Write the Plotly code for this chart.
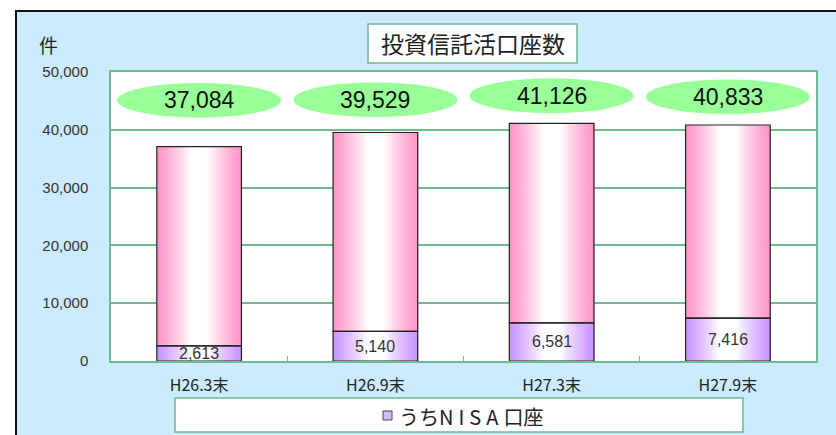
import numpy as np
import plotly.graph_objects as go

# ---- data ----
periods = ["H26.3末", "H26.9末", "H27.3末", "H27.9末"]
total_accounts = [37084, 39529, 41126, 40833]
nisa_accounts = [2613, 5140, 6581, 7416]
y_ticks = [0, 10000, 20000, 30000, 40000, 50000]

# ---- styling ----
W, H = 836, 435
L, R, T, B = 111, 20, 72, 74
PLOT_W, PLOT_H = W - L - R, H - T - B
BG_BLUE = "#CCEBFF"
GRID = "#6DBB8F"
PINK = (255, 153, 204)
PURPLE = (204, 153, 255)
ELLIPSE = "#99FF99"
CJK = "Noto Sans CJK JP"
SANS = "Liberation Sans"
BAR_W = 0.48
N_SLICES = 30


def px_x(p):
    return (p - L) / PLOT_W


def px_y(p):
    return (H - B - p) / PLOT_H


def shade(edge, u):
    # u in [-0.5, 0.5]: white in the middle, full colour at the edges
    t = float(np.clip((abs(u) - 0.10) / 0.36, 0, 1)) ** 0.85
    r, g, b = (round(255 + (c - 255) * t) for c in edge)
    return f"rgb({r},{g},{b})"


fig = go.Figure()

pink_heights = [t - n for t, n in zip(total_accounts, nisa_accounts)]
step = BAR_W / N_SLICES
for seg_base, seg_height, edge in [
    ([0] * len(periods), nisa_accounts, PURPLE),
    (nisa_accounts, pink_heights, PINK),
]:
    for i in range(N_SLICES):
        off = -BAR_W / 2 + i * step
        u = (off + step / 2) / BAR_W
        fig.add_trace(go.Bar(
            x=periods, y=seg_height, base=seg_base,
            offset=off, width=step * 1.25,
            marker=dict(color=shade(edge, u), line=dict(width=0)),
            hoverinfo="skip", showlegend=False,
        ))

# outlines of both segments
for seg_base, seg_height in [([0] * len(periods), nisa_accounts),
                             (nisa_accounts, pink_heights)]:
    fig.add_trace(go.Bar(
        x=periods, y=seg_height, base=seg_base,
        offset=-BAR_W / 2, width=BAR_W,
        marker=dict(color="rgba(0,0,0,0)", line=dict(color="#222", width=1.2)),
        hoverinfo="skip", showlegend=False,
    ))

shapes = [
    # outer panel
    dict(type="rect", xref="paper", yref="paper", layer="below",
         x0=px_x(16), x1=px_x(1000), y0=px_y(600), y1=px_y(11),
         fillcolor=BG_BLUE, line=dict(color="#111", width=2)),
    # plotting area
    dict(type="rect", xref="paper", yref="paper", layer="below",
         x0=0, x1=1, y0=0, y1=1, fillcolor="white", line=dict(width=0)),
    # title box
    dict(type="rect", xref="paper", yref="paper", layer="above",
         x0=px_x(368), x1=px_x(577), y0=px_y(63), y1=px_y(24),
         fillcolor="white", line=dict(color=GRID, width=1.5)),
    # legend box
    dict(type="rect", xref="paper", yref="paper", layer="above",
         x0=px_x(175), x1=px_x(743), y0=px_y(432), y1=px_y(398),
         fillcolor="white", line=dict(color=GRID, width=1.5)),
    # legend swatch
    dict(type="rect", xref="paper", yref="paper", layer="above",
         x0=px_x(383), x1=px_x(392), y0=px_y(420), y1=px_y(411),
         fillcolor="rgb(215,185,255)", line=dict(color="#444", width=1)),
]

# green ellipses behind the total labels
ellipse_mid = [45100, 45200, 45900, 45700]
ellipse_half_h = 3000
ellipse_half_w = 0.465
for i, total in enumerate(total_accounts):
    shapes.append(dict(
        type="circle", xref="x", yref="y", layer="above",
        x0=i - ellipse_half_w, x1=i + ellipse_half_w,
        y0=ellipse_mid[i] - ellipse_half_h, y1=ellipse_mid[i] + ellipse_half_h,
        fillcolor=ELLIPSE, line=dict(width=0),
    ))

centred = dict(showarrow=False, xanchor="center", yanchor="middle")
annotations = [
    dict(text="投資信託活口座数", xref="paper", yref="paper",
         x=px_x(472.5), y=px_y(43.5),
         font=dict(family=CJK, size=23, color="#222"), **centred),
    dict(text="うち<span style='letter-spacing:5px'>NISA</span>口座",
         xref="paper", yref="paper", x=px_x(471), y=px_y(416),
         font=dict(family=CJK, size=20, color="#222"), **centred),
    dict(text="件", xref="paper", yref="paper",
         x=px_x(48), y=px_y(45),
         font=dict(family=CJK, size=19, color="#222"), **centred),
]
for i, total in enumerate(total_accounts):
    annotations.append(dict(
        text=f"{total:,}", x=i, y=ellipse_mid[i], xref="x", yref="y",
        font=dict(family=SANS, size=23, color="#111"), **centred,
    ))
for i, n in enumerate(nisa_accounts):
    annotations.append(dict(
        text=f"{n:,}", x=i, y=n / 2, xref="x", yref="y",
        font=dict(family=SANS, size=16, color="#333"), **centred,
    ))

fig.update_layout(
    width=W, height=H, autosize=False,
    margin=dict(l=L, r=R, t=T, b=B, pad=0),
    paper_bgcolor="white", plot_bgcolor="rgba(0,0,0,0)",
    barmode="overlay", showlegend=False,
    shapes=shapes, annotations=annotations,
    xaxis=dict(
        type="category", range=[-0.5, len(periods) - 0.5],
        showgrid=False, showline=True, linecolor=GRID, linewidth=1.5, mirror=True,
        ticks="inside", tickson="boundaries", ticklen=5, tickcolor=GRID,
        tickfont=dict(family=CJK, size=16, color="#222"),
        ticklabelstandoff=9,
    ),
    yaxis=dict(
        range=[0, 50000], tickvals=y_ticks,
        ticktext=[f"{v:,}" for v in y_ticks],
        showgrid=True, gridcolor=GRID, gridwidth=1.5,
        showline=True, linecolor=GRID, linewidth=1.5, mirror=True,
        ticks="", zeroline=False,
        tickfont=dict(family=SANS, size=15, color="#333"),
        ticklabelstandoff=18,
    ),
)

fig.write_html("out.html")
